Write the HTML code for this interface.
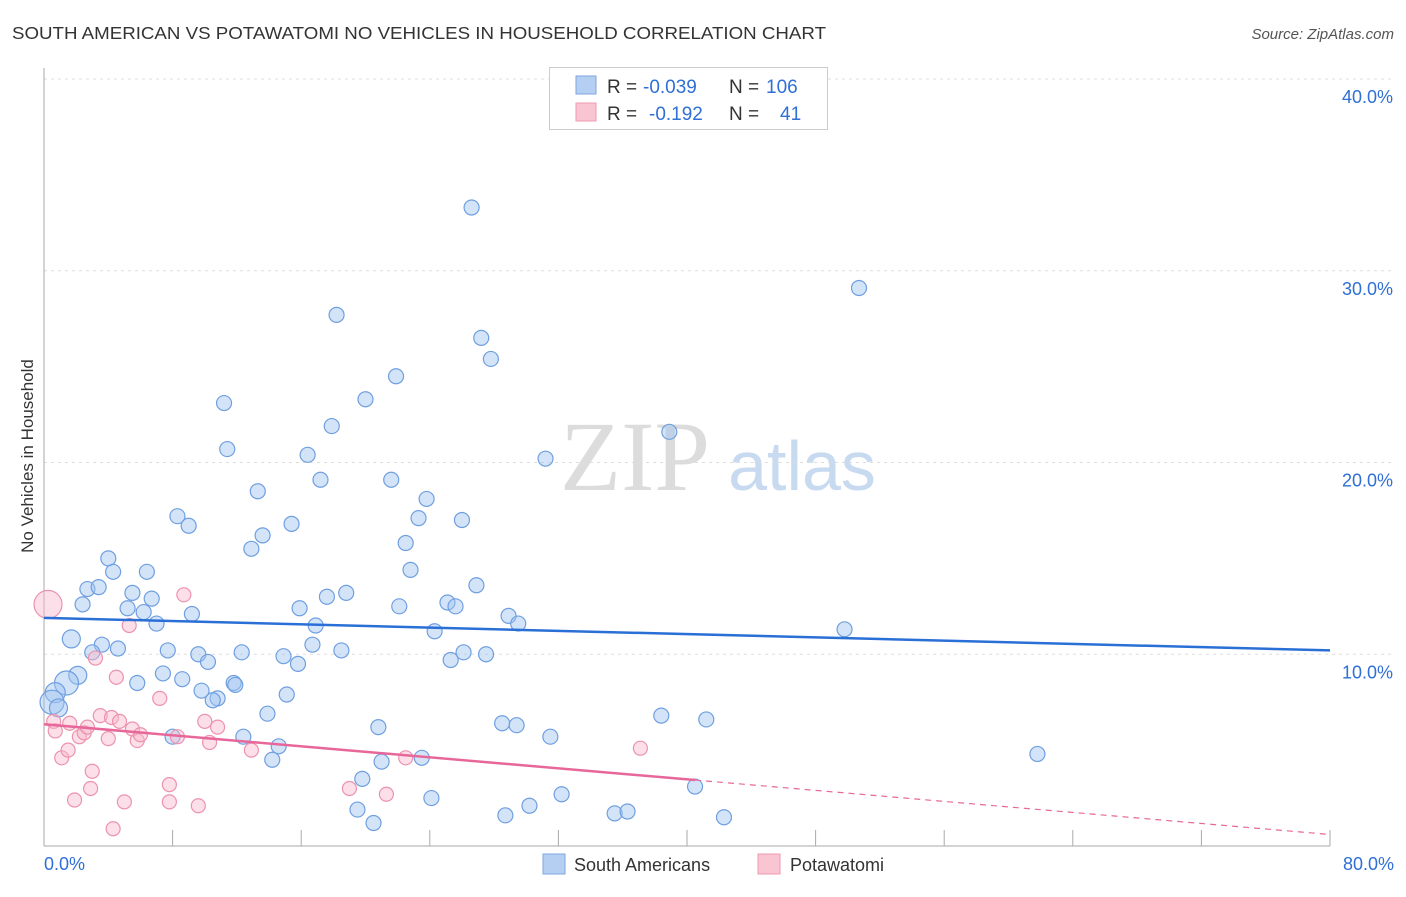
<!DOCTYPE html>
<html><head><meta charset="utf-8"><style>
body{margin:0;background:#fff;font-family:"Liberation Sans",sans-serif;}
</style></head><body>
<svg id="chart" width="1406" height="892" font-family="Liberation Sans, sans-serif">
<text x="12" y="39" font-size="17.5" fill="#333" textLength="814" lengthAdjust="spacingAndGlyphs">SOUTH AMERICAN VS POTAWATOMI NO VEHICLES IN HOUSEHOLD CORRELATION CHART</text>
<text x="1394" y="39" font-size="15" fill="#555" font-style="italic" text-anchor="end">Source: ZipAtlas.com</text>
<text transform="translate(33,456) rotate(-90)" font-size="17" fill="#333" text-anchor="middle">No Vehicles in Household</text>
<g>
<text x="635" y="490" font-size="100" fill="#dcdcdc" style="font-family:'Liberation Serif',serif" text-anchor="middle">ZIP</text>
<text x="802" y="490" font-size="70" fill="#c8daf0" text-anchor="middle">atlas</text>
</g>
<g id="grid"></g><g id="axes"></g><g id="pts"></g><g id="lines"></g>
<g>
<rect x="549.5" y="67.5" width="278" height="62" fill="#fff" stroke="#ccc"/>
<rect x="576" y="76" width="20" height="18" fill="#b5cff3" stroke="#7ea6e0"/>
<rect x="576" y="103" width="20" height="18" fill="#f9c5d3" stroke="#ee9ab2"/>
<g font-size="19">
<text x="607" y="93" fill="#333">R =</text>
<text x="643" y="93" fill="#2f6fd6">-0.039</text>
<text x="729" y="93" fill="#333">N =</text>
<text x="766" y="93" fill="#2f6fd6">106</text>
</g>
<g font-size="19">
<text x="607" y="120" fill="#333">R =</text>
<text x="649" y="120" fill="#2f6fd6">-0.192</text>
<text x="729" y="120" fill="#333">N =</text>
<text x="780" y="120" fill="#2f6fd6">41</text>
</g>
</g>
<g>
<rect x="543" y="854" width="22" height="20" fill="#b5cff3" stroke="#7ea6e0"/>
<text x="574" y="871" font-size="18" fill="#333">South Americans</text>
<rect x="758" y="854" width="22" height="20" fill="#f9c5d3" stroke="#ee9ab2"/>
<text x="790" y="871" font-size="18" fill="#333">Potawatomi</text>
</g>
</svg>
<script>
const xTicks=[0,80];
const yTicks=[10,20,30,40];
const blueX=[26.6,50.7,18.2,27.2,27.8,21.9,20.0,11.2,17.9,38.9,11.4,31.2,16.4,17.2,21.6,13.3,23.8,8.3,23.3,9.0,26.0,15.4,13.6,22.5,12.9,4.0,4.3,6.4,22.8,26.9,2.7,3.4,5.5,6.7,18.8,17.6,2.4,25.1,5.2,6.2,15.9,22.1,25.6,9.2,28.9,7.0,29.5,16.9,24.3,49.8,1.7,3.6,4.6,7.7,16.7,3.0,9.6,12.3,18.5,14.9,26.1,27.5,10.2,15.8,25.3,2.1,7.4,8.6,5.8,11.8,11.9,9.8,10.8,10.5,15.1,1.4,0.7,0.5,0.9,13.9,38.4,41.2,28.5,29.4,20.8,8.0,12.4,31.5,14.6,14.2,21.0,23.5,61.8,19.8,40.5,32.2,24.1,19.5,30.2,20.5,28.7,35.5,36.3,42.3];
const blueY=[33.3,29.1,27.7,26.5,25.4,24.5,23.3,23.1,21.9,21.6,20.7,20.2,20.4,19.1,19.1,18.5,18.1,17.2,17.1,16.7,17.0,16.8,16.2,15.8,15.5,15.0,14.3,14.3,14.4,13.6,13.4,13.5,13.2,12.9,13.2,13.0,12.6,12.7,12.4,12.2,12.4,12.5,12.5,12.1,12.0,11.6,11.6,11.5,11.2,11.3,10.8,10.5,10.3,10.2,10.5,10.1,10.0,10.1,10.2,9.9,10.1,10.0,9.6,9.5,9.7,8.9,9.0,8.7,8.5,8.5,8.4,8.1,7.7,7.6,7.9,8.5,8.0,7.5,7.2,6.9,6.8,6.6,6.4,6.3,6.2,5.7,5.7,5.7,5.2,4.5,4.4,4.6,4.8,3.5,3.1,2.7,2.5,1.9,2.1,1.2,1.6,1.7,1.8,1.5];
const pinkX=[0.25,8.7,5.3,3.2,4.5,7.2,0.6,0.7,1.6,2.2,2.5,2.7,3.5,4.0,4.2,4.7,5.5,5.8,6.0,8.3,10.0,10.3,10.8,12.9,1.1,1.5,3.0,2.9,1.9,5.0,7.8,7.8,9.6,4.3,19.0,21.3,22.5,37.1];
const pinkY=[12.6,13.1,11.5,9.8,8.8,7.7,6.5,6.0,6.4,5.7,5.9,6.2,6.8,5.6,6.7,6.5,6.1,5.5,5.8,5.7,6.5,5.4,6.2,5.0,4.6,5.0,3.9,3.0,2.4,2.3,3.2,2.3,2.1,0.9,3.0,2.7,4.6,5.1];
const blueTrend=[11.9,10.2];
const pinkTrend=[6.35,0.6];
const pinkSolidEnd=40.5;
const X0=44,X1=1330,Y0=846,Y40=79;
const sx=v=>X0+(v-0)*(X1-X0)/80;
const sy=v=>Y0-v*(Y0-Y40)/40;
const NS="http://www.w3.org/2000/svg";
function mk(tag,attrs,parent,txt){const e=document.createElementNS(NS,tag);for(const k in attrs)e.setAttribute(k,attrs[k]);if(txt!==undefined)e.textContent=txt;document.getElementById(parent).appendChild(e);return e;}
yTicks.forEach(t=>{
 const g=mk('line',{x1:X0,x2:1392,y1:sy(t),y2:sy(t),stroke:'#ddd','stroke-dasharray':'3,4'},'grid');
 
 
 const l=mk('text',{x:1393,y:sy(t)+24,'font-size':18,fill:'#2f6fd6','text-anchor':'end'},'grid',t.toFixed(1)+'%');
 
 
});
const ax=mk('line',{x1:X0,x2:X0,y1:68,y2:Y0,stroke:'#aaa'},'axes');


const bx=mk('line',{x1:X0,x2:X1,y1:Y0,y2:Y0,stroke:'#aaa'},'axes');


for(let i=1;i<=10;i++){const t=mk('line',{x1:sx(i*8),x2:sx(i*8),y1:Y0,y2:Y0-16,stroke:'#aaa'},'axes');
 
 }
xTicks.forEach((t,i)=>{const l=mk('text',{x:i==0?44:1394,y:870,'font-size':18,fill:'#2f6fd6','text-anchor':i==0?'start':'end'},'axes',t.toFixed(1)+'%');
 
 });
const bigB={75:12,76:10,77:12,78:9,50:9,65:9};
blueX.forEach((x,i)=>{const c=mk('circle',{cx:sx(x),cy:sy(blueY[i]),r:bigB[i]||7.5,fill:'rgba(160,195,240,0.45)',stroke:'#6f9fe0','stroke-width':1.2},'pts');
 
 });
pinkX.forEach((x,i)=>{const c=mk('circle',{cx:sx(x),cy:sy(pinkY[i]),r:i==0?14:7,fill:'rgba(248,185,205,0.45)',stroke:'#ec93ae','stroke-width':1.2},'pts');
 
 });
const bl=mk('line',{x1:sx(0),y1:sy(blueTrend[0]),x2:sx(80),y2:sy(blueTrend[1]),stroke:'#2a6fd6','stroke-width':2.5},'lines');


const py=x=>pinkTrend[0]+(pinkTrend[1]-pinkTrend[0])*x/80;
const pl=mk('line',{x1:sx(0),y1:sy(pinkTrend[0]),x2:sx(pinkSolidEnd),y2:sy(py(pinkSolidEnd)),stroke:'#e8679a','stroke-width':2.5},'lines');


const pd=mk('line',{x1:sx(pinkSolidEnd),y1:sy(py(pinkSolidEnd)),x2:sx(80),y2:sy(pinkTrend[1]),stroke:'#e8679a','stroke-width':1.2,'stroke-dasharray':'6,5'},'lines');


</script>
</body></html>
